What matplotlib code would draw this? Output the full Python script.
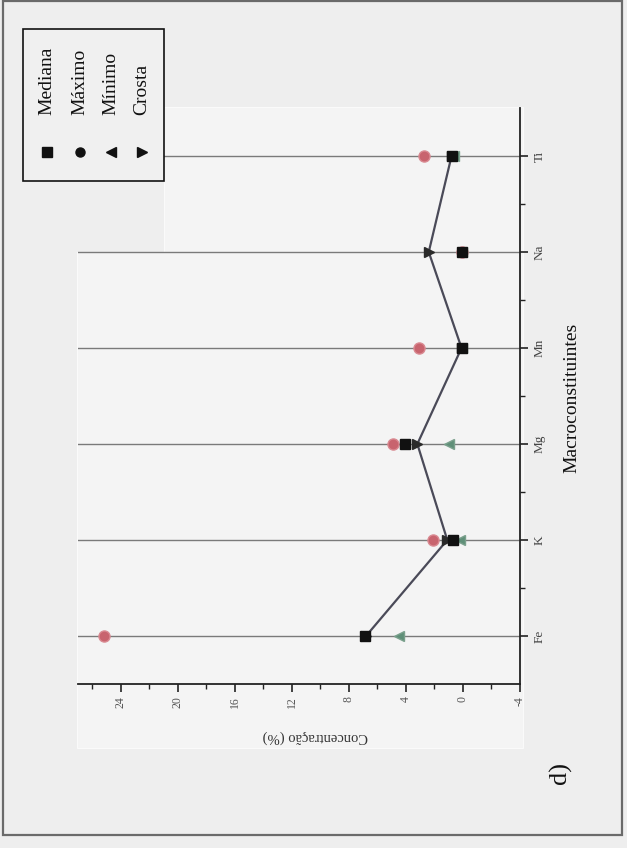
import numpy as np
import matplotlib
matplotlib.use("Agg")
import matplotlib.pyplot as plt
from matplotlib.patches import Rectangle, Polygon
from matplotlib.lines import Line2D

# Macroconstituent concentrations (%)
categories = ["Fe", "K", "Mg", "Mn", "Na", "Ti"]
mediana = [6.9, 0.7, 4.1, 0.1, 0.1, 0.8]
maximo = [25.2, 2.1, 4.9, 3.1, 0.1, 2.7]
minimo = [4.5, 0.2, 1.0, 0.05, 0.05, 0.6]
crosta = [6.8, 1.1, 3.2, 0.1, 2.4, 0.8]

value_ticks = [-4, 0, 4, 8, 12, 16, 20, 24]
legend_labels = ["Mediana", "Máximo", "Mínimo", "Crosta"]

W, H = 627, 848
fig = plt.figure(figsize=(W / 100, H / 100), dpi=100, facecolor="#eeeeee")

def fx(px):
    return px / W

def fy(py):
    return 1 - py / H

serif = ["Liberation Serif", "DejaVu Serif"]

# page frame
fig.add_artist(Rectangle((fx(3), fy(835)), fx(619), 834 / H, transform=fig.transFigure,
                         fill=False, edgecolor="#6a6a6a", lw=1.6))
# lighter chart panel
panel = [(164, 107), (523, 107), (523, 748), (77, 748), (77, 252), (164, 252)]
fig.add_artist(Polygon([(fx(x), fy(y)) for x, y in panel], closed=True,
                       transform=fig.transFigure, facecolor="#f4f4f4",
                       edgecolor="#fafafa", lw=0.8, zorder=0))

# rotated chart: value axis horizontal (inverted), categories vertical
ax = fig.add_axes([fx(78), fy(684), fx(520) - fx(78), (684 - 108) / H])
ax.set_facecolor("none")
pos = np.arange(1, len(categories) + 1)

for p in pos:
    ax.axhline(p, color="#7a7a7a", lw=1.0, zorder=1)

ax.plot(crosta, pos, color="#4a4a58", lw=1.6, marker=">", ms=7,
        mfc="#2a2a2a", mec="#2a2a2a", zorder=3)
ax.plot(maximo, pos, ls="none", marker="o", ms=8, mfc="#c8646e", mec="#d98a92", zorder=4)
ax.plot(minimo, pos, ls="none", marker="<", ms=7, mfc="#5f8f78", mec="#7aa08c", zorder=4)
ax.plot(mediana, pos, ls="none", marker="s", ms=7, mfc="#111111", mec="#111111", zorder=5)

ax.set_xlim(27, -4)
ax.set_ylim(0.5, 6.5)

for s in ["top", "left"]:
    ax.spines[s].set_visible(False)
for s in ["bottom", "right"]:
    ax.spines[s].set_linewidth(1.3)
    ax.spines[s].set_color("#222222")

ax.set_xticks(value_ticks)
ax.set_xticks(np.arange(-2, 27, 4), minor=True)
ax.set_xticklabels([str(v) for v in value_ticks], rotation=90, fontsize=8.5,
                   family=serif, color="#555555")
ax.yaxis.tick_right()
ax.set_yticks(pos)
ax.set_yticks(pos[:-1] + 0.5, minor=True)
ax.set_yticklabels(categories, rotation=90, va="center", fontsize=9.5,
                   family=serif, color="#444444")
ax.tick_params(axis="both", which="major", direction="out", length=6, width=1.2,
               color="#222222")
ax.tick_params(axis="both", which="minor", direction="out", length=3.5, width=1.0,
               color="#222222")
ax.tick_params(axis="x", pad=3)
ax.tick_params(axis="y", pad=4)

ax.set_xlabel("Concentração (%)", rotation=180, fontsize=10.5, family=serif,
              color="#333333", va="center", ha="center")
ax.xaxis.set_label_coords((315 - 78) / 442, (684 - 737) / 576)
ax.yaxis.set_label_position("right")
ax.set_ylabel("Macroconstituintes", rotation=90, fontsize=14, family=serif,
              color="#111111", va="center", ha="center")
ax.yaxis.set_label_coords((572 - 78) / 442, 1 - (398 - 108) / 576)

# legend box drawn with rotated entries
fig.add_artist(Rectangle((fx(23), fy(181)), fx(164) - fx(23), (181 - 29) / H,
                         transform=fig.transFigure, facecolor="#f0f0f0",
                         edgecolor="#111111", lw=1.2, zorder=6))
legend_markers = ["s", "o", "<", ">"]
legend_x = [47, 80, 111, 142]
for lab, mk, x in zip(legend_labels, legend_markers, legend_x):
    fig.add_artist(Line2D([fx(x)], [fy(152)], transform=fig.transFigure, ls="none",
                          marker=mk, ms=6.5, mfc="#111111", mec="#111111", zorder=7))
    fig.text(fx(x), fy(115), lab, rotation=90, ha="center", va="bottom",
             fontsize=14, family=serif, color="#111111", zorder=7)

fig.text(fx(560), fy(773), "d)", rotation=90, ha="center", va="center",
         fontsize=19, family=serif, color="#111111")

fig.savefig("out.png", dpi=100, facecolor=fig.get_facecolor())
